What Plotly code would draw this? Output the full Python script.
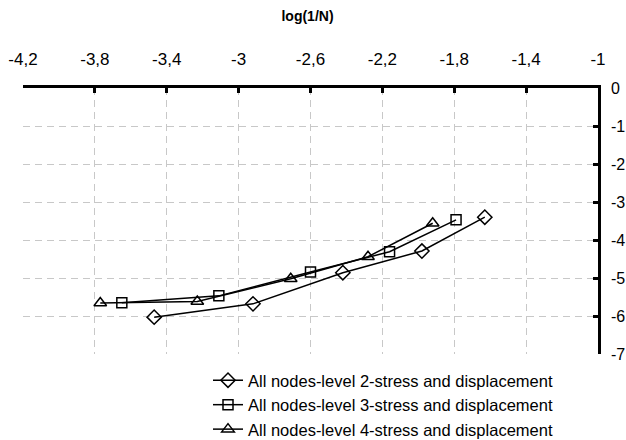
import plotly.graph_objects as go

# Data
names = [
    "All nodes-level 2-stress and displacement",
    "All nodes-level 3-stress and displacement",
    "All nodes-level 4-stress and displacement",
]
x_level2 = [-3.47, -2.92, -2.42, -1.98, -1.63]
y_level2 = [-6.03, -5.68, -4.86, -4.29, -3.40]
x_level3 = [-3.65, -3.11, -2.60, -2.16, -1.79]
y_level3 = [-5.65, -5.47, -4.84, -4.31, -3.47]
x_level4 = [-3.77, -3.23, -2.71, -2.28, -1.92]
y_level4 = [-5.66, -5.62, -5.02, -4.44, -3.56]
symbols = ["diamond-open", "square-open", "triangle-up-open"]
sizes = [11, 10, 11]

x_ticks = [-4.2, -3.8, -3.4, -3.0, -2.6, -2.2, -1.8, -1.4, -1.0]
y_ticks = [0, -1, -2, -3, -4, -5, -6, -7]

fig = go.Figure()
for name, xs, ys, sym, sz in zip(
    names,
    [x_level2, x_level3, x_level4],
    [y_level2, y_level3, y_level4],
    symbols,
    sizes,
):
    fig.add_trace(
        go.Scatter(
            x=xs,
            y=ys,
            mode="lines+markers",
            name=name,
            line=dict(color="black", width=1.5),
            marker=dict(symbol=sym, size=sz, color="black",
                        line=dict(color="black", width=1.5)),
        )
    )

font_family = "Liberation Sans, Arial, sans-serif"

fig.update_layout(
    width=626,
    height=440,
    margin=dict(l=23, r=28, t=88, b=86, autoexpand=False),
    paper_bgcolor="white",
    plot_bgcolor="white",
    separators=", ",
    font=dict(family=font_family, color="black", size=16),
    title=dict(
        text="<b>log(1/N)</b>",
        x=(274 + 341) / 2 / 626,
        xanchor="center",
        y=1 - 16 / 440,
        yanchor="middle",
        font=dict(size=14, family=font_family, color="black"),
    ),
    showlegend=True,
    legend=dict(
        xref="container",
        yref="container",
        x=208 / 626,
        xanchor="left",
        y=1 - 363 / 440,
        yanchor="top",
        font=dict(size=16.5, family=font_family, color="black"),
        bgcolor="rgba(0,0,0,0)",
        tracegroupgap=0,
        itemwidth=30,
    ),
)

fig.update_xaxes(
    side="top",
    range=[-4.2, -1.0],
    tickvals=x_ticks,
    ticktext=[("%g" % v).replace(".", ",") for v in x_ticks],
    showline=True,
    linecolor="black",
    linewidth=2.5,
    ticks="inside",
    ticklen=5,
    tickwidth=2.5,
    tickcolor="black",
    showgrid=True,
    gridcolor="#c8c8c8",
    gridwidth=1,
    griddash="7px,5px",
    zeroline=False,
    automargin=False,
    tickfont=dict(size=17, family=font_family, color="black"),
    ticklabelstandoff=13,
)
fig.update_yaxes(
    side="right",
    range=[-7, 0],
    tickvals=y_ticks,
    ticktext=[str(v) for v in y_ticks],
    showline=True,
    linecolor="black",
    linewidth=2.5,
    ticks="inside",
    ticklen=5,
    tickwidth=2.5,
    tickcolor="black",
    showgrid=True,
    gridcolor="#c8c8c8",
    gridwidth=1,
    griddash="7px,5px",
    zeroline=False,
    automargin=False,
    tickfont=dict(size=16, family=font_family, color="black"),
    ticklabelstandoff=7,
)

fig.write_html("out.html")
